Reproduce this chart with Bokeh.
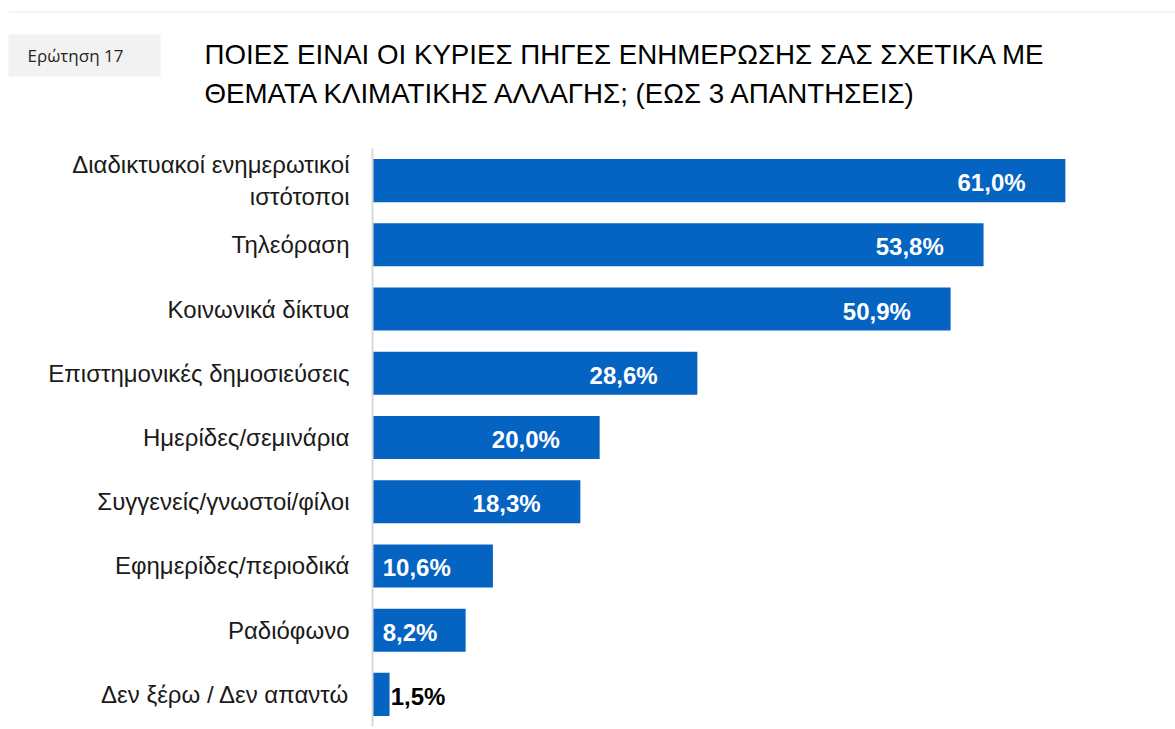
from bokeh.plotting import figure
from bokeh.models import ColumnDataSource, Range1d, FactorRange
from bokeh.layouts import column
from bokeh.embed import file_html
from bokeh.resources import INLINE
from bokeh.core.properties import value

# ---- data ----
QUESTION = "Ερώτηση 17"
TITLE_LINES = [
    "ΠΟΙΕΣ ΕΙΝΑΙ ΟΙ ΚΥΡΙΕΣ ΠΗΓΕΣ ΕΝΗΜΕΡΩΣΗΣ ΣΑΣ ΣΧΕΤΙΚΑ ΜΕ",
    "ΘΕΜΑΤΑ ΚΛΙΜΑΤΙΚΗΣ ΑΛΛΑΓΗΣ; (ΕΩΣ 3 ΑΠΑΝΤΗΣΕΙΣ)",
]
categories = [
    "Διαδικτυακοί ενημερωτικοί\nιστότοποι",
    "Τηλεόραση",
    "Κοινωνικά δίκτυα",
    "Επιστημονικές δημοσιεύσεις",
    "Ημερίδες/σεμινάρια",
    "Συγγενείς/γνωστοί/φίλοι",
    "Εφημερίδες/περιοδικά",
    "Ραδιόφωνο",
    "Δεν ξέρω / Δεν απαντώ",
]
values = [61.0, 53.8, 50.9, 28.6, 20.0, 18.3, 10.6, 8.2, 1.5]

BLUE = "#0563C1"
W, H = 1175, 729
HDR_H = 140
LEFT, BOTTOM = 372, 3
X_MAX = 70.7

# ---- header figure (data coords = pixels from top-left) ----
hdr = figure(width=W, height=HDR_H, x_range=Range1d(0, W), y_range=Range1d(HDR_H, 0),
             output_backend="svg", toolbar_location=None, min_border=0,
             x_axis_type=None, y_axis_type=None)
hdr.frame_align = False
hdr.grid.visible = False
hdr.outline_line_color = None
hdr.line([8, W], [11.5, 11.5], line_color="#ececec", line_width=1)
hdr.quad(left=8, right=160, top=34, bottom=76, fill_color="#f2f2f2", line_color=None)
hdr.text(x=[27], y=[55], text=[QUESTION], text_baseline="middle", text_align="left",
         text_font=value("Open Sans"), text_font_size="17px", text_color="#262626")
hdr.text(x=[204, 204], y=[53.5, 93], text=TITLE_LINES, text_baseline="middle",
         text_align="left", text_font=value("Liberation Sans"), text_font_size="27.7px",
         text_color="#000000")

# ---- chart figure ----
p = figure(width=W, height=H - HDR_H, y_range=FactorRange(factors=categories[::-1]),
           x_range=Range1d(0, X_MAX), output_backend="svg", toolbar_location=None,
           min_border_left=LEFT, min_border_right=0, min_border_top=8,
           min_border_bottom=BOTTOM, x_axis_location=None)
p.frame_align = False
p.grid.visible = False
p.outline_line_color = None

p.hbar(y=categories, left=0, right=values, height=0.67, fill_color=BLUE, line_color=None)

lab_x, lab_t, lab_a, lab_c = [], [], [], []
for v in values:
    t = f"{v:.1f}".replace(".", ",") + "%"
    if v < 5:
        lab_x.append(v + 0.1); lab_a.append("left"); lab_c.append("#000000")
    elif v < 12:
        lab_x.append(0.9); lab_a.append("left"); lab_c.append("#ffffff")
    else:
        lab_x.append(v - 3.5); lab_a.append("right"); lab_c.append("#ffffff")
    lab_t.append(t)
src = ColumnDataSource(dict(x=lab_x, y=categories, t=lab_t, a=lab_a, c=lab_c))
p.text(x="x", y="y", text="t", text_align="a", text_color="c", source=src,
       text_baseline="middle", y_offset=2, text_font=value("Liberation Sans"),
       text_font_size="24px", text_font_style="bold")

ax = p.yaxis[0]
ax.axis_line_color = "#d9d9d9"
ax.axis_line_width = 2
ax.major_tick_line_color = None
ax.minor_tick_line_color = None
ax.major_label_standoff = 17
ax.major_label_text_font = "Liberation Sans"
ax.major_label_text_font_size = "24px"
ax.major_label_text_color = "#1a1a1a"

layout = column(hdr, p, spacing=0)
open("out.html", "w").write(file_html(layout, INLINE))
